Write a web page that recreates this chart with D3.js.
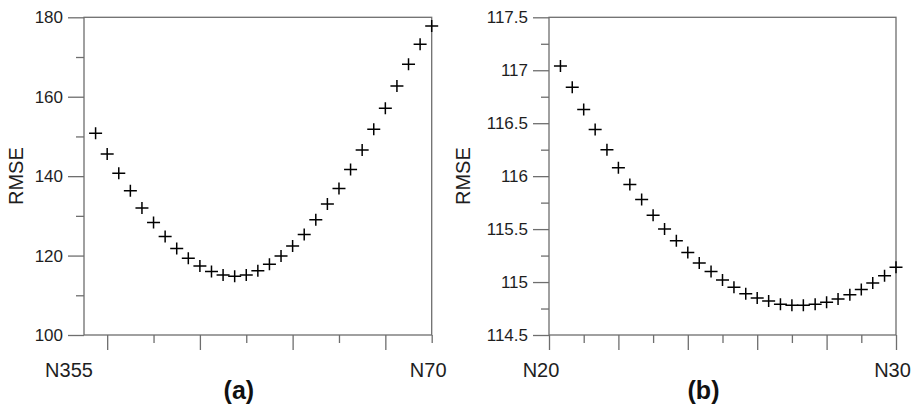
<!DOCTYPE html>
<html>
<head>
<meta charset="utf-8">
<script src="https://cdn.jsdelivr.net/npm/d3@7"></script>
<style>
  html, body { margin: 0; padding: 0; background: #fff; }
  svg { display: block; font-family: "Liberation Sans", Arial, sans-serif; }
</style>
</head>
<body>
<svg id="chart" width="918" height="406"></svg>
<script>
// Panel (a): RMSE against strike azimuth, N355 through N70 (2.5° steps)
const azimuthA = [357.5, 0, 2.5, 5, 7.5, 10, 12.5, 15, 17.5, 20, 22.5, 25, 27.5, 30, 32.5,
                  35, 37.5, 40, 42.5, 45, 47.5, 50, 52.5, 55, 57.5, 60, 62.5, 65, 67.5, 70];
const rmseA = [150.8, 145.6, 140.7, 136.3, 132.0, 128.3, 124.8, 121.8, 119.3, 117.4,
               116.0, 115.1, 114.8, 115.1, 116.2, 117.8, 119.9, 122.4, 125.3, 129.0,
               133.0, 136.9, 141.7, 146.6, 151.8, 157.1, 162.7, 168.2, 173.2, 177.8];
const yTicksA = [100, 120, 140, 160, 180];
const yMinorA = [110, 130, 150, 170];
const xTicksA = [360, 380, 400, 420];          // N0, N20, N40, N60 (unwrapped)
const xMinorA = [370, 390, 410, 430];
const xLabelsA = [{ v: 355, text: "N355" }, { v: 430, text: "N70" }];

// Panel (b): finer search between N20 and N30 (1/3° steps)
const azimuthB = [20.33, 20.67, 21, 21.33, 21.67, 22, 22.33, 22.67, 23, 23.33,
                  23.67, 24, 24.33, 24.67, 25, 25.33, 25.67, 26, 26.33, 26.67,
                  27, 27.33, 27.67, 28, 28.33, 28.67, 29, 29.33, 29.67, 30];
const rmseB = [117.04, 116.84, 116.63, 116.44, 116.25, 116.08, 115.92, 115.78, 115.63, 115.50,
               115.39, 115.28, 115.18, 115.10, 115.02, 114.95, 114.89, 114.85, 114.82, 114.79,
               114.78, 114.78, 114.79, 114.81, 114.84, 114.88, 114.93, 114.99, 115.06, 115.14];
const yTicksB = [114.5, 115, 115.5, 116, 116.5, 117, 117.5];
const yMinorB = [114.75, 115.25, 115.75, 116.25, 116.75, 117.25];
const xTicksB = [20, 22, 24, 26, 28, 30];
const xMinorB = [21, 23, 25, 27, 29];
const xLabelsB = [{ v: 20, text: "N20", dx: -8 }, { v: 30, text: "N30", dx: -3.5 }];

const svg = d3.select("#chart");
const AXIS = "#6e6e6e";
const TEXT = "#1e1e1e";

// azimuths past north are unwrapped so the axis runs continuously
const unwrap = a => (a < 180 ? a + 360 : a);

function panel(cfg) {
  const g = svg.append("g");
  const x = d3.scaleLinear().domain(cfg.xDomain).range([cfg.left, cfg.right]);
  const y = d3.scaleLinear().domain(cfg.yDomain).range([cfg.bottom, cfg.top]);

  // major y ticks with labels
  const ya = g.append("g").attr("transform", `translate(${cfg.left},0)`)
    .call(d3.axisLeft(y).tickValues(cfg.yTicks).tickSize(16).tickSizeOuter(0)
      .tickPadding(5).tickFormat(d3.format("")));
  // minor y ticks
  const ym = g.append("g").attr("transform", `translate(${cfg.left},0)`)
    .call(d3.axisLeft(y).tickValues(cfg.yMinor).tickSize(8).tickSizeOuter(0).tickFormat(""));
  // major and minor x ticks (labels drawn separately)
  const xa = g.append("g").attr("transform", `translate(0,${cfg.bottom})`)
    .call(d3.axisBottom(x).tickValues(cfg.xTicks).tickSize(15).tickSizeOuter(0).tickFormat(""));
  const xm = g.append("g").attr("transform", `translate(0,${cfg.bottom})`)
    .call(d3.axisBottom(x).tickValues(cfg.xMinor).tickSize(8).tickSizeOuter(0).tickFormat(""));

  [ya, ym, xa, xm].forEach(a => {
    a.select(".domain").remove();
    a.selectAll(".tick line").attr("stroke", AXIS).attr("stroke-width", 1.3);
  });
  ya.selectAll(".tick text").attr("fill", TEXT).attr("font-size", 17)
    .attr("font-family", "'Liberation Sans', Arial, sans-serif");

  // plot frame
  g.append("rect")
    .attr("x", cfg.left).attr("y", cfg.top)
    .attr("width", cfg.right - cfg.left).attr("height", cfg.bottom - cfg.top)
    .attr("fill", "none").attr("stroke", AXIS).attr("stroke-width", 1.3);

  // end labels of the azimuth axis
  g.selectAll("text.xl").data(cfg.xLabels).join("text")
    .attr("class", "xl")
    .attr("x", d => x(d.v) + d.dx)
    .attr("y", cfg.bottom + 42)
    .attr("text-anchor", "middle")
    .attr("font-size", 20)
    .attr("fill", TEXT)
    .text(d => d.text);

  // y-axis title
  g.append("text")
    .attr("transform", `translate(${cfg.titleX},${(cfg.top + cfg.bottom) / 2}) rotate(-90)`)
    .attr("text-anchor", "middle")
    .attr("font-size", 20)
    .attr("fill", TEXT)
    .text("RMSE");

  // panel letter
  g.append("text")
    .attr("x", (cfg.left + cfg.right) / 2 - 19)
    .attr("y", 399)
    .attr("text-anchor", "middle")
    .attr("font-size", 25)
    .attr("font-weight", "bold")
    .attr("fill", "#111")
    .text(cfg.letter);

  // RMSE markers as plus signs
  const cross = "M-6.5,0H6.5M0,-6V6";
  g.selectAll("path.pt").data(cfg.xs.map((v, i) => [v, cfg.ys[i]])).join("path")
    .attr("class", "pt")
    .attr("transform", d => `translate(${x(cfg.xAcc(d[0]))},${y(d[1])})`)
    .attr("d", cross)
    .attr("fill", "none")
    .attr("stroke", "#000")
    .attr("stroke-width", 1.5);
}

panel({
  left: 84, right: 431.7, top: 17.3, bottom: 335,
  xDomain: [355, 430], yDomain: [100, 180],
  yTicks: yTicksA, yMinor: yMinorA, xTicks: xTicksA, xMinor: xMinorA,
  xLabels: xLabelsA.map((d, i) => ({ ...d, dx: i === 0 ? -15 : -3.5 })),
  xs: azimuthA, ys: rmseA, xAcc: unwrap,
  titleX: 23, letter: "(a)"
});

panel({
  left: 549, right: 896, top: 17.3, bottom: 335,
  xDomain: [20, 30], yDomain: [114.5, 117.5],
  yTicks: yTicksB, yMinor: yMinorB, xTicks: xTicksB, xMinor: xMinorB,
  xLabels: xLabelsB,
  xs: azimuthB, ys: rmseB, xAcc: a => a,
  titleX: 470, letter: "(b)"
});
</script>
</body>
</html>
